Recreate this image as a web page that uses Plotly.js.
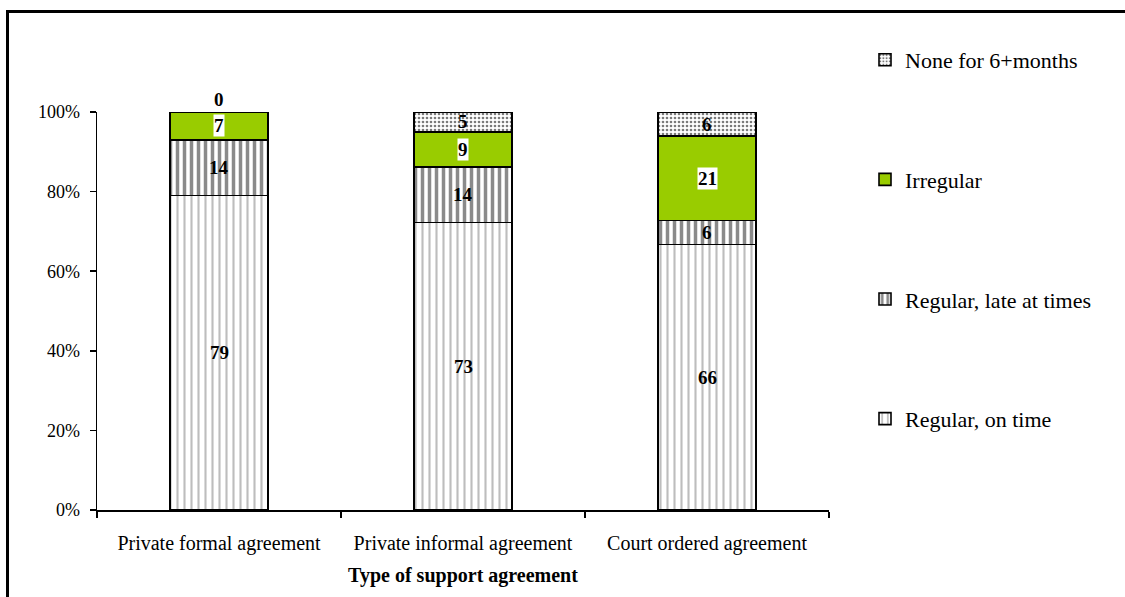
<!DOCTYPE html>
<html>
<head>
<meta charset="utf-8">
<script src="https://cdn.plot.ly/plotly-3.0.1.min.js"></script>
<style>
  html, body { margin: 0; padding: 0; background: #fff; }
  #chart { width: 1125px; height: 597px; }
</style>
</head>
<body>
<div id="chart"></div>
<script>
// Payment regularity by type of child support agreement (percent of cases)
const categories = ['Private formal agreement', 'Private informal agreement', 'Court ordered agreement'];
const onTime = [79, 73, 66];
const lateAtTimes = [14, 14, 6];
const irregular = [7, 9, 21];
const noneSixMonths = [0, 5, 6];

const seriesNames = ['Regular, on time', 'Regular, late at times', 'Irregular', 'None for 6+months'];
const seriesValues = [onTime, lateAtTimes, irregular, noneSixMonths];

const serif = '"Liberation Serif", "Times New Roman", serif';
const W = 1125, H = 597;
const M = { l: 97, r: 296, t: 112, b: 87 };
const plotW = W - M.l - M.r, plotH = H - M.t - M.b;
const px2x = p => (p - M.l) / plotW;
const px2y = p => (H - M.b - p) / plotH;

const outline = { color: '#000', width: 1.6 };
const markers = [
  { color: '#ffffff', line: outline, pattern: { shape: '|', fgcolor: '#bdbdbd', bgcolor: '#ffffff', size: 7, solidity: 0.3 } },
  { color: '#ffffff', line: outline, pattern: { shape: '|', fgcolor: '#8a8a8a', bgcolor: '#ffffff', size: 7, solidity: 0.5 } },
  { color: '#99cc00', line: outline },
  { color: '#ffffff', line: outline, pattern: { shape: '.', fgcolor: '#7a7a7a', bgcolor: '#ffffff', size: 4, solidity: 0.35 } }
];

// Stacked bottom-to-top; the legend lists them top-to-bottom
const traces = seriesNames.map((name, k) => ({
  type: 'bar',
  name: name,
  x: categories,
  y: seriesValues[k],
  marker: markers[k],
  legendgroup: 'g' + k,
  legendrank: seriesNames.length - k,
  hoverinfo: 'name+y'
}));

// Segment labels, placed at the middle of each normalised segment
const annotations = [];
categories.forEach((cat, i) => {
  const total = seriesValues.reduce((s, arr) => s + arr[i], 0);
  let cum = 0;
  seriesValues.forEach((arr, k) => {
    const v = arr[i];
    const zero = v === 0;
    annotations.push({
      x: cat, y: zero ? (cum / total) * 100 : ((cum + v / 2) / total) * 100,
      xref: 'x', yref: 'y',
      text: '<b>' + v + '</b>',
      showarrow: false,
      yanchor: zero ? 'bottom' : 'middle',
      yshift: zero ? 1 : 0,
      bgcolor: k === 2 ? '#ffffff' : 'rgba(0,0,0,0)',
      borderpad: 0,
      font: { family: serif, size: 19, color: '#000' }
    });
    cum += v;
  });
});

const layout = {
  width: W, height: H,
  margin: M,
  paper_bgcolor: '#ffffff',
  plot_bgcolor: '#ffffff',
  barmode: 'stack',
  barnorm: 'percent',
  bargap: 0.6,
  font: { family: serif, size: 18, color: '#000' },
  xaxis: {
    type: 'category',
    showline: true, linecolor: '#000', linewidth: 1.5,
    ticks: 'outside', tickson: 'boundaries', ticklen: 6, tickcolor: '#000', tickwidth: 1.5,
    tickfont: { family: serif, size: 20, color: '#000' },
    ticklabelstandoff: 14,
    title: { text: '<b>Type of support agreement</b>', font: { family: serif, size: 20, color: '#000' }, standoff: 14 },
    showgrid: false, zeroline: false, fixedrange: true
  },
  yaxis: {
    range: [0, 100], dtick: 20, ticksuffix: '%',
    showline: true, linecolor: '#000', linewidth: 1.5,
    ticks: 'outside', ticklen: 6, tickcolor: '#000', tickwidth: 1.5,
    tickfont: { family: serif, size: 18, color: '#000' },
    ticklabelstandoff: 6,
    showgrid: false, zeroline: false, fixedrange: true
  },
  legend: {
    x: px2x(865), xanchor: 'left',
    y: px2y(39), yanchor: 'top',
    traceorder: 'grouped',
    tracegroupgap: 88,
    maxheight: 560,
    font: { family: serif, size: 22, color: '#000' },
    bgcolor: 'rgba(0,0,0,0)', borderwidth: 0
  },
  annotations: annotations,
  shapes: [
    { type: 'line', xref: 'paper', yref: 'paper', x0: px2x(6), x1: px2x(W + 5), y0: px2y(11.5), y1: px2y(11.5), line: { color: '#000', width: 3 } },
    { type: 'line', xref: 'paper', yref: 'paper', x0: px2x(7.5), x1: px2x(7.5), y0: px2y(10), y1: px2y(H + 5), line: { color: '#000', width: 3 } }
  ]
};

Plotly.newPlot('chart', traces, layout, { displayModeBar: false, staticPlot: true });
</script>
</body>
</html>
